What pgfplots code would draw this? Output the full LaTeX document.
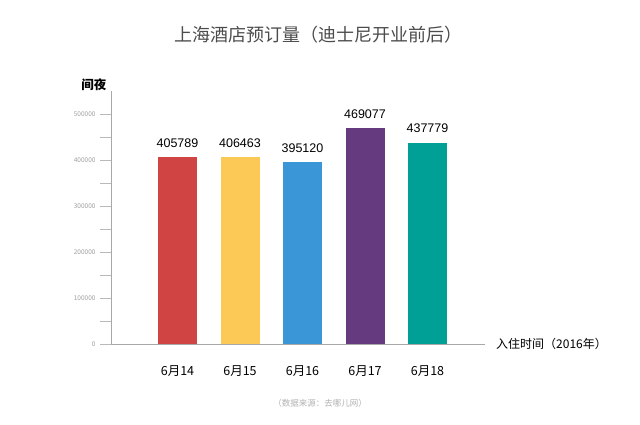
\documentclass[border=0pt]{standalone}
\usepackage{pgfplots}
\pgfplotsset{compat=1.18}
\usepackage{fontspec}
\setmainfont{Noto Sans CJK SC}
\newfontfamily\numfont{Liberation Sans}
\definecolor{cred}{HTML}{D04444}
\definecolor{cyellow}{HTML}{FDC956}
\definecolor{cblue}{HTML}{3A96D6}
\definecolor{cpurple}{HTML}{653A7F}
\definecolor{cteal}{HTML}{00A096}
\definecolor{axgray}{HTML}{A8A8A8}
\begin{document}
\begin{tikzpicture}[x=1pt,y=1pt]
\path[use as bounding box, fill=white] (0,0) rectangle (640,425);
\begin{axis}[
  at={(111pt,81pt)}, anchor=south west,
  scale only axis, width=374pt, height=253pt,
  xmin=-1.064, xmax=4.92, ymin=0, ymax=550000,
  axis lines*=left,
  axis line style={axgray, line width=0.8pt},
  clip=false,
  scaled y ticks=false,
  xtick={0,1,2,3,4},
  xticklabels={6月14,6月15,6月16,6月17,6月18},
  x tick style={draw=none},
  xticklabel style={font=\fontsize{12.5}{14}\selectfont, yshift=-7pt},
  ytick={0,100000,200000,300000,400000,500000},
  yticklabels={0,100000,200000,300000,400000,500000},
  minor ytick={50000,150000,250000,350000,450000},
  tick align=outside,
  major tick length=11pt, minor tick length=11pt,
  y tick style={axgray!80, line width=0.5pt},
  yticklabel style={font=\fontsize{6.5}{7}\selectfont, text=gray!75, xshift=-1pt},
  /pgf/number format/assume math mode=true,
  ybar, bar width=39pt,
  point meta=explicit symbolic,
  nodes near coords,
  nodes near coords style={font=\numfont\fontsize{12.5}{14}\selectfont, yshift=6pt},
]
\addplot[fill=cred, draw=none, bar shift=0pt] coordinates {(0,405789) [405789]};
\addplot[fill=cyellow, draw=none, bar shift=0pt] coordinates {(1,406463) [406463]};
\addplot[fill=cblue, draw=none, bar shift=0pt] coordinates {(2,395120) [395120]};
\addplot[fill=cpurple, draw=none, bar shift=0pt] coordinates {(3,469077) [469077]};
\addplot[fill=cteal, draw=none, bar shift=0pt] coordinates {(4,437779) [437779]};
\end{axis}
\node[text=black!70, font=\fontsize{18}{20}\selectfont] at (318,390) {上海酒店预订量（迪士尼开业前后）};
\node[font=\bfseries\fontsize{12.5}{14}\selectfont, anchor=east] at (110,340) {间夜};
\node[font=\fontsize{12}{14}\selectfont, anchor=west, inner sep=0pt] at (496,81) {入住时间（2016年）};
\node[font=\fontsize{8.5}{10}\selectfont, text=gray!60] at (320,22) {（数据来源：去哪儿网）};
\end{tikzpicture}
\end{document}
